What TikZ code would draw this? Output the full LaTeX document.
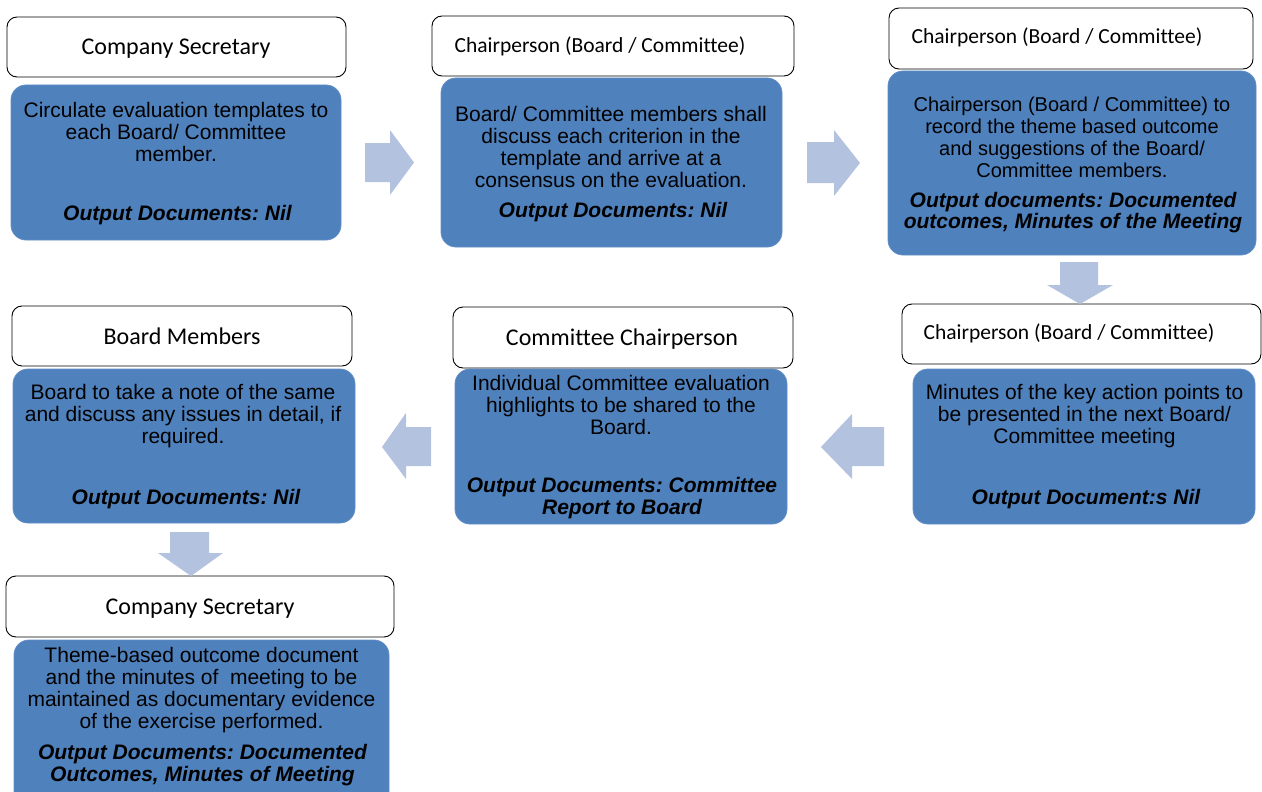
\documentclass[tikz,border=0pt]{standalone}
\usepackage{fontspec}
\setmainfont{Liberation Sans}
\newfontfamily\hdfont[Ligatures=NoCommon]{Carlito}
\definecolor{boxblue}{RGB}{79,129,189}
\definecolor{boxedge}{RGB}{98,143,198}
\definecolor{arrowblue}{RGB}{179,194,222}
\newcommand\mkbox[6]{%
  \pgfmathsetmacro\mkBW{#5-#3}\pgfmathsetmacro\mkBH{#6-#4}%
  \pgfmathsetmacro\mkBX{(#3+#5)/2}\pgfmathsetmacro\mkBY{(#4+#6)/2}%
  \node[#2, minimum width=\mkBW pt, minimum height=\mkBH pt] (#1) at (\mkBX,\mkBY) {};}
\tikzset{
  hdr/.style={draw=black, line width=0.9pt, fill=white, rounded corners=10pt, inner sep=0pt, outer sep=0pt},
  bluebox/.style={fill=boxblue, draw=boxedge, line width=0.8pt, rounded corners=15pt, inner sep=0pt, outer sep=0pt},
  hdrbig/.style={font=\hdfont\fontsize{24}{26}\selectfont, inner sep=0pt},
  hdrsmall/.style={font=\hdfont\fontsize{21.5}{24}\selectfont, inner sep=0pt},
  body/.style={font=\fontsize{21}{22}\selectfont, align=center, inner sep=0pt},
  bodysmall/.style={font=\fontsize{20}{22}\selectfont, align=center, inner sep=0pt},
  outtxt/.style={font=\bfseries\itshape\fontsize{21}{22}\selectfont, align=center, inner sep=0pt},
  outsmall/.style={font=\bfseries\itshape\fontsize{21}{21.5}\selectfont, align=center, inner sep=0pt},
  blockarrow/.style={fill=arrowblue, draw=none}
}
\begin{document}
\frenchspacing
\begin{tikzpicture}[x=1pt,y=-1pt]
\useasboundingbox (0,0) rectangle (1262,792);
\clip (0,0) rectangle (1262,792);

% header boxes
\mkbox{h1}{hdr}{7}{17}{346}{77}
\mkbox{h2}{hdr}{432}{16}{794}{76}
\mkbox{h3}{hdr}{889}{8}{1253}{69}
\mkbox{h4}{hdr}{902}{304}{1261}{364}
\mkbox{h5}{hdr}{453}{307}{793}{368}
\mkbox{h6}{hdr}{12}{306}{352}{366}
\mkbox{h7}{hdr}{6}{576}{394}{637}

% blue boxes
\mkbox{b1}{bluebox}{11}{85}{341}{240}
\mkbox{b2}{bluebox}{441}{78}{782}{247}
\mkbox{b3}{bluebox}{888}{71}{1256}{255}
\mkbox{b4}{bluebox}{913}{369}{1255}{524}
\mkbox{b5}{bluebox}{455}{369}{787}{524}
\mkbox{b6}{bluebox}{13}{369}{355}{523}
\mkbox{b7}{bluebox}{14}{640}{389}{815}

% header texts
\node[hdrbig] (t1) at (176,48.5) {Company Secretary};
\node[hdrsmall] (t2) at (600,46.5) {Chairperson (Board / Committee)};
\node[hdrsmall] (t3) at (1057,37.5) {Chairperson (Board / Committee)};
\node[hdrsmall] (t4) at (1069,333.5) {Chairperson (Board / Committee)};
\node[hdrbig] (t5) at (622,339.5) {Committee Chairperson};
\node[hdrbig] (t6) at (182,336.5) {Board Members};
\node[hdrbig] (t7) at (200,608.5) {Company Secretary};

% body texts
\node[body] (x1) at (176,131.5) {Circulate evaluation templates to\\each Board/ Committee\\member.};
\node[outtxt] (o1) at (177.5,215) {Output Documents: Nil};

\node[body] (x2) at (611,146.5) {Board/ Committee members shall\\discuss each criterion in the\\template and arrive at a\\consensus on the evaluation.};
\node[outtxt] (o2) at (613,212) {Output Documents: Nil};

\node[bodysmall] (x3) at (1072,137.5) {Chairperson (Board / Committee) to\\record the theme based outcome\\and suggestions of the Board/\\Committee members.};
\node[outsmall] (o3) at (1073,212.5) {Output documents: Documented\\outcomes, Minutes of the Meeting};

\node[body] (x4) at (1084.5,416.5) {Minutes of the key action points to\\be presented in the next Board/\\Committee meeting};
\node[outtxt] (o4) at (1086,499) {Output Document:s Nil};

\node[body] (x5) at (621,404.5) {Individual Committee evaluation\\highlights to be shared to the\\Board.};
\node[outtxt] (o5) at (622,498.5) {Output Documents: Committee\\Report to Board};

\node[body] (x6) at (183,416) {Board to take a note of the same\\and discuss any issues in detail, if\\required.};
\node[outtxt] (o6) at (186,499) {Output Documents: Nil};

\node[body] (x7) at (201.5,690.5) {Theme-based outcome document\\and the minutes of\ \ meeting to be\\maintained as documentary evidence\\of the exercise performed.};
\node[outtxt] (o7) at (202.5,765.5) {Output Documents: Documented\\Outcomes, Minutes of Meeting};

% block arrows
\fill[blockarrow] (365,143) -- (390,143) -- (390,130) -- (414,162.5) -- (390,195) -- (390,182) -- (365,182) -- cycle;
\fill[blockarrow] (807,142) -- (834,142) -- (834,130) -- (860,163) -- (834,196) -- (834,183) -- (807,183) -- cycle;
\fill[blockarrow] (1060,262) -- (1098,262) -- (1098,285) -- (1113,285) -- (1080,304) -- (1047,285) -- (1060,285) -- cycle;
\fill[blockarrow] (884,427) -- (852,427) -- (852,414) -- (821,447) -- (852,479) -- (852,466) -- (884,466) -- cycle;
\fill[blockarrow] (431,427) -- (406,427) -- (406,413) -- (382,447) -- (406,479) -- (406,466) -- (431,466) -- cycle;
\fill[blockarrow] (170,532) -- (209,532) -- (209,553) -- (223,553) -- (191,576) -- (158,553) -- (170,553) -- cycle;
\end{tikzpicture}
\end{document}
